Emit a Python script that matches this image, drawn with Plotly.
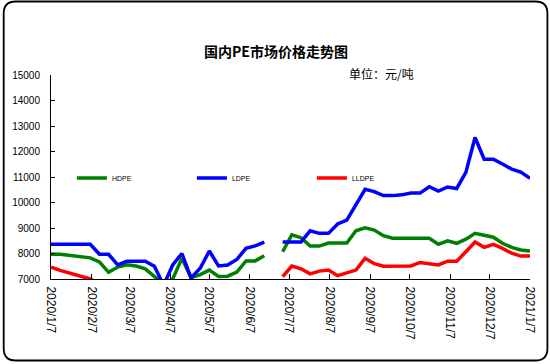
import plotly.graph_objects as go

# ---- data ----
dates = [
    "2020-01-07", "2020-01-14", "2020-02-06", "2020-02-13", "2020-02-20", "2020-02-27",
    "2020-03-05", "2020-03-12", "2020-03-19", "2020-03-26", "2020-04-02", "2020-04-09",
    "2020-04-16", "2020-04-23", "2020-04-30", "2020-05-07", "2020-05-14", "2020-05-21",
    "2020-05-28", "2020-06-04", "2020-06-11", "2020-06-18", "2020-06-25",
    "2020-07-02", "2020-07-09", "2020-07-16", "2020-07-23", "2020-07-30", "2020-08-06",
    "2020-08-13", "2020-08-20", "2020-08-27", "2020-09-03", "2020-09-10", "2020-09-17",
    "2020-09-24", "2020-10-01", "2020-10-08", "2020-10-15", "2020-10-22", "2020-10-29",
    "2020-11-05", "2020-11-12", "2020-11-19", "2020-11-26", "2020-12-03", "2020-12-10",
    "2020-12-17", "2020-12-24", "2020-12-31", "2021-01-07",
]

hdpe = [
    7970, 7970, 7830, 7670, 7260, 7470, 7560, 7510, 7400, 7090, 6800, 7000,
    7810, 7050, 7170, 7350, 7100, 7110, 7270, 7710, 7710, 7910, None,
    8070, 8730, 8620, 8290, 8290, 8410, 8410, 8410, 8890, 9010, 8920, 8700,
    8600, 8600, 8600, 8600, 8600, 8360, 8500, 8400, 8560, 8790, 8700, 8640,
    8400, 8240, 8140, 8100,
]

ldpe = [
    8360, 8360, 8360, 7970, 7970, 7550, 7700, 7700, 7700, 7500, 6750, 7550,
    8000, 7040, 7420, 8100, 7510, 7550, 7770, 8200, 8300, 8450, None,
    8450, 8450, 8450, 8890, 8790, 8790, 9160, 9310, 9920, 10520, 10430, 10270,
    10270, 10300, 10370, 10370, 10620, 10450, 10610, 10550, 11180, 12550, 11700, 11700,
    11510, 11310, 11190, 10950,
]

lldpe = [
    7460, 7340, 7000, 6800, 6700, 6700, 6700, 6600, 6500, 6500, 6400, 6400,
    6500, 6500, 6500, 6500, 6600, 6500, 6500, 6500, 6600, 6700, None,
    7090, 7510, 7400, 7200, 7310, 7350, 7130, 7250, 7350, 7810, 7600, 7500,
    7500, 7510, 7510, 7650, 7610, 7550, 7700, 7700, 8070, 8450, 8240, 8360,
    8200, 8010, 7900, 7900,
]

series_names = ["HDPE", "LDPE", "LLDPE"]
series_colors = ["#008000", "#0000FF", "#FF0000"]

tick_dates = [
    "2020-01-07", "2020-02-07", "2020-03-07", "2020-04-07", "2020-05-07", "2020-06-07",
    "2020-07-07", "2020-08-07", "2020-09-07", "2020-10-07", "2020-11-07", "2020-12-07",
    "2021-01-07",
]
tick_labels = [
    "2020/1/7", "2020/2/7", "2020/3/7", "2020/4/7", "2020/5/7", "2020/6/7",
    "2020/7/7", "2020/8/7", "2020/9/7", "2020/10/7", "2020/11/7", "2020/12/7",
    "2021/1/7",
]

title_text = "国内PE市场价格走势图"
unit_text = "单位：元/吨"

# ---- layout geometry ----
W, H = 550, 364
L, R, T, B = 49, 20, 75, 85
PW, PH = W - L - R, H - T - B


def px(x):
    return (x - L) / PW


def py(y):
    return (H - B - y) / PH


fig = go.Figure()
for name, vals, col in zip(series_names, [hdpe, ldpe, lldpe], series_colors):
    fig.add_trace(go.Scatter(
        x=dates, y=vals, name=name, mode="lines",
        line=dict(color=col, width=3.5), connectgaps=False,
    ))

# rounded border
x0, y0, x1, y1, r = 1.5, 1.5, 547.5, 360.5, 12
path = (
    f"M {px(x0 + r)},{py(y0)} L {px(x1 - r)},{py(y0)} "
    f"Q {px(x1)},{py(y0)} {px(x1)},{py(y0 + r)} "
    f"L {px(x1)},{py(y1 - r)} Q {px(x1)},{py(y1)} {px(x1 - r)},{py(y1)} "
    f"L {px(x0 + r)},{py(y1)} Q {px(x0)},{py(y1)} {px(x0)},{py(y1 - r)} "
    f"L {px(x0)},{py(y0 + r)} Q {px(x0)},{py(y0)} {px(x0 + r)},{py(y0)} Z"
)

fig.update_layout(
    width=W, height=H,
    margin=dict(l=L, r=R, t=T, b=B),
    paper_bgcolor="white", plot_bgcolor="white",
    font=dict(family="Liberation Sans, Arial, sans-serif", color="black", size=10),
    shapes=[dict(type="path", path=path, xref="paper", yref="paper",
                 line=dict(color="black", width=1.8), layer="above")],
    annotations=[
        dict(text=f"<b>{title_text}</b>", x=px(275), y=py(51), xref="paper", yref="paper",
             showarrow=False, xanchor="center", yanchor="middle",
             font=dict(family="Noto Sans CJK SC", size=14, color="black")),
        dict(text=unit_text, x=px(381), y=py(73), xref="paper", yref="paper",
             showarrow=False, xanchor="center", yanchor="middle",
             font=dict(family="Noto Sans CJK SC", size=12, color="black")),
    ],
    legend=dict(
        orientation="h", x=px(70), y=py(178), xanchor="left", yanchor="middle",
        font=dict(size=7, color="black"), bgcolor="rgba(0,0,0,0)",
        entrywidth=75, entrywidthmode="pixels", itemwidth=30,
    ),
    showlegend=True,
)

fig.update_xaxes(
    type="date", range=["2020-01-07", "2021-01-07"],
    tickvals=tick_dates, ticktext=tick_labels, tickangle=90,
    showline=True, linecolor="black", linewidth=1, mirror=False,
    ticks="inside", ticklen=5, tickcolor="black", showgrid=False, zeroline=False,
    tickfont=dict(size=12), ticklabelstandoff=4,
)
fig.update_yaxes(
    range=[7000, 15000], dtick=1000, tick0=7000, tickformat="d",
    showline=True, linecolor="black", linewidth=1,
    ticks="inside", ticklen=4, tickcolor="black", showgrid=False, zeroline=False,
    tickfont=dict(size=10), ticklabelstandoff=8,
)

fig.write_html(
    "out.html",
    config={"displayModeBar": False},
    post_script="document.body.style.margin='0';document.body.style.overflow='hidden';",
)
